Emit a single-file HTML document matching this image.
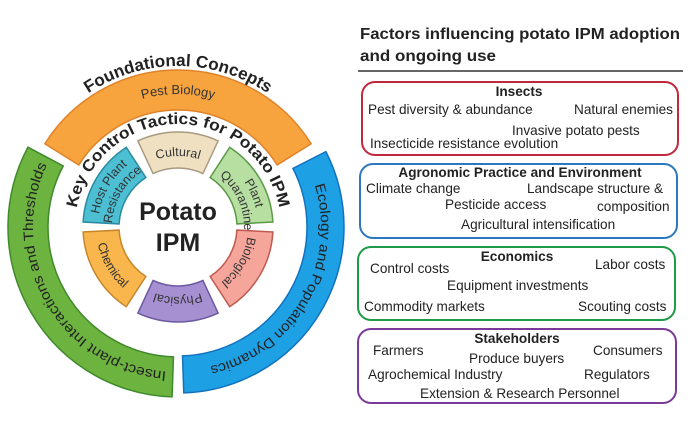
<!DOCTYPE html>
<html><head><meta charset="utf-8"><style>
html,body{margin:0;padding:0;background:#fff;}
svg{display:block;font-family:"Liberation Sans",sans-serif;}
</style></head><body>
<svg id="s" width="700" height="443" viewBox="0 0 700 443" xmlns="http://www.w3.org/2000/svg">
<g id="d"></g>
<text x="178" y="220" text-anchor="middle" font-size="25" font-weight="bold" fill="#222">Potato</text>
<text x="178" y="251" text-anchor="middle" font-size="25" font-weight="bold" fill="#222">IPM</text>

<g fill="#222">
<text x="360" y="39" font-size="16" font-weight="bold" textLength="320" lengthAdjust="spacingAndGlyphs">Factors influencing potato IPM adoption</text>
<text x="360" y="61" font-size="16" font-weight="bold" textLength="136" lengthAdjust="spacingAndGlyphs">and ongoing use</text>
</g>
<line x1="358" y1="71" x2="683" y2="71" stroke="#333" stroke-width="1.5"/>

<g fill="none" stroke-width="2">
<rect x="362" y="82" width="316" height="73" rx="13" stroke="#c0283c"/>
<rect x="360" y="164" width="317" height="74" rx="13" stroke="#2b78c0"/>
<rect x="358" y="247" width="317" height="73" rx="13" stroke="#1f9a48"/>
<rect x="358" y="329" width="318" height="74" rx="13" stroke="#7a3a9a"/>
</g>
<g font-size="13.6" fill="#222">
<text x="519" y="96" text-anchor="middle" font-weight="bold">Insects</text>
<text x="368" y="114">Pest diversity &amp; abundance</text>
<text x="574" y="114">Natural enemies</text>
<text x="512" y="135">Invasive potato pests</text>
<text x="370" y="148">Insecticide resistance evolution</text>

<text x="520" y="177" text-anchor="middle" font-weight="bold">Agronomic Practice and Environment</text>
<text x="366" y="193">Climate change</text>
<text x="527" y="193">Landscape structure &amp;</text>
<text x="445" y="209">Pesticide access</text>
<text x="597" y="211">composition</text>
<text x="461" y="229">Agricultural intensification</text>

<text x="517" y="261" text-anchor="middle" font-weight="bold">Economics</text>
<text x="370" y="273">Control costs</text>
<text x="595" y="269">Labor costs</text>
<text x="447" y="290">Equipment investments</text>
<text x="364" y="311">Commodity markets</text>
<text x="578" y="311">Scouting costs</text>

<text x="517" y="343" text-anchor="middle" font-weight="bold">Stakeholders</text>
<text x="373" y="355">Farmers</text>
<text x="469" y="363">Produce buyers</text>
<text x="593" y="355">Consumers</text>
<text x="368" y="379">Agrochemical Industry</text>
<text x="584" y="379">Regulators</text>
<text x="420" y="398">Extension &amp; Research Personnel</text>
</g>
</svg>
<script>
(function(){
var cx=178,cy=227,NS="http://www.w3.org/2000/svg",g=document.getElementById('d');
function P(r,a){a=a*Math.PI/180;return (cx+r*Math.cos(a)).toFixed(2)+" "+(cy-r*Math.sin(a)).toFixed(2);}
function sector(r1,r2,a1,a2,fill,stroke){
 var large=(a2-a1)>180?1:0;
 var d="M"+P(r2,a1)+" A"+r2+" "+r2+" 0 "+large+" 0 "+P(r2,a2)+" L"+P(r1,a2)+" A"+r1+" "+r1+" 0 "+large+" 1 "+P(r1,a1)+" Z";
 var p=document.createElementNS(NS,"path");p.setAttribute("d",d);p.setAttribute("fill",fill);p.setAttribute("stroke",stroke);p.setAttribute("stroke-width","1.5");g.appendChild(p);
}
var id=0;
function arcText(r,center,span,cw,txt,size,weight,color,tl){
 var a1,a2,d,large=span>180?1:0;
 if(cw){a1=center+span/2;a2=center-span/2;d="M"+P(r,a1)+" A"+r+" "+r+" 0 "+large+" 1 "+P(r,a2);}
 else{a1=center-span/2;a2=center+span/2;d="M"+P(r,a1)+" A"+r+" "+r+" 0 "+large+" 0 "+P(r,a2);}
 var pid="tp"+(id++);
 var p=document.createElementNS(NS,"path");p.setAttribute("id",pid);p.setAttribute("d",d);p.setAttribute("fill","none");g.appendChild(p);
 var t=document.createElementNS(NS,"text");t.setAttribute("font-size",size);if(weight)t.setAttribute("font-weight",weight);t.setAttribute("fill",color);
 var tp=document.createElementNS(NS,"textPath");tp.setAttribute("href","#"+pid);tp.setAttributeNS("http://www.w3.org/1999/xlink","xlink:href","#"+pid);
 tp.setAttribute("startOffset","50%");tp.setAttribute("text-anchor","middle");
 if(tl){tp.setAttribute("textLength",tl);tp.setAttribute("lengthAdjust","spacingAndGlyphs");}
 tp.textContent=txt;t.appendChild(tp);g.appendChild(t);
}
sector(117,157,32,148,"#f7a43f","#e0822a");
sector(130,170,152,268,"#6db33f","#3f8a2c");
sector(129,166,-88,27,"#1ea0e4","#1272bd");
sector(59,95,65,115,"#efe0c2","#a89a80");
sector(59,95,3,57,"#b7dfa2","#5a9a48");
sector(59,95,123,177,"#4cbfd2","#2a8aa0");
sector(59,95,-57,-3,"#f6a59b","#c05a50");
sector(59,95,-115,-65,"#a690d2","#6a58a0");
sector(59,95,-177,-123,"#f8b64c","#c8862a");
arcText(161,90,120,true,"Foundational Concepts",17,"bold","#222",190);
arcText(133,90,80,true,"Pest Biology",13,null,"#333");
arcText(103,90,170,true,"Key Control Tactics for Potato IPM",16,"bold","#222",285);
arcText(145,210,116,true,"Insect-plant Interactions and Thresholds",14,null,"#222",280);
arcText(143,-30,115,true,"Ecology and Population Dynamics",14,null,"#222",235);
arcText(71,90,50,true,"Cultural",12.5,null,"#333");
arcText(80,24,54,true,"Plant",12.5,null,"#333");
arcText(66,24,60,true,"Quarantine",12.5,null,"#333");
arcText(80,150,54,true,"Host Plant",12.5,null,"#333");
arcText(66,150,60,true,"Resistance",12.5,null,"#333");
arcText(70,-30,54,true,"Biological",12.5,null,"#333");
arcText(70,-90,54,true,"Physical",12.5,null,"#333");
arcText(82,-150,54,false,"Chemical",12.5,null,"#333");
})();
</script>
</body></html>
